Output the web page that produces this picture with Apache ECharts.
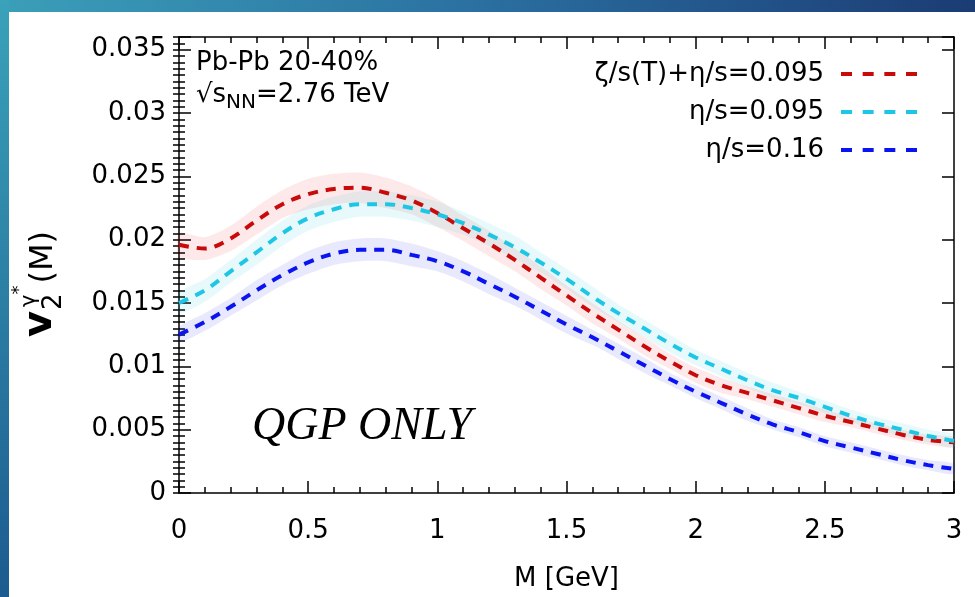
<!DOCTYPE html>
<html>
<head>
<meta charset="utf-8">
<script src="https://cdn.jsdelivr.net/npm/echarts@6/dist/echarts.min.js"></script>
<style>
  html, body { margin: 0; padding: 0; background: #ffffff; }
  #chart { width: 975px; height: 597px; }
</style>
</head>
<body>
<div id="chart"></div>
<script>
// Dilepton invariant mass M [GeV]
const massGeV = [0.0, 0.1, 0.2, 0.3, 0.4, 0.5, 0.6, 0.7, 0.8, 0.9,
                 1.0, 1.1, 1.2, 1.3, 1.4, 1.5, 1.6, 1.7, 1.8, 1.9,
                 2.0, 2.1, 2.2, 2.3, 2.4, 2.5, 2.6, 2.7, 2.8, 2.9, 3.0];

// v2 of virtual photons, zeta/s(T) + eta/s = 0.095
const v2Bulk = [0.0196, 0.0193, 0.0201, 0.0215, 0.0228, 0.0236, 0.0240, 0.0241, 0.0237, 0.0231,
                0.0221, 0.0209, 0.0197, 0.0184, 0.0170, 0.0156, 0.0142, 0.0129, 0.0116, 0.0104,
                0.0093, 0.0085, 0.0079, 0.0073, 0.0067, 0.0061, 0.0056, 0.0051, 0.0046, 0.0042, 0.0040];
// eta/s = 0.095
const v2Eta095 = [0.0150, 0.0160, 0.0175, 0.0190, 0.0205, 0.0217, 0.0224, 0.0228, 0.0228, 0.0225,
                  0.0220, 0.0213, 0.0204, 0.0194, 0.0182, 0.0169, 0.0155, 0.0142, 0.0130, 0.0118,
                  0.0107, 0.0098, 0.0089, 0.0081, 0.0075, 0.0068, 0.0061, 0.0055, 0.0050, 0.0045, 0.0041];
// eta/s = 0.16
const v2Eta016 = [0.0125, 0.0135, 0.0147, 0.0160, 0.0172, 0.0182, 0.0189, 0.0192, 0.0192, 0.0188,
                  0.0183, 0.0175, 0.0165, 0.0155, 0.0144, 0.0133, 0.0123, 0.0112, 0.0101, 0.0090,
                  0.0080, 0.0071, 0.0062, 0.0054, 0.0048, 0.0041, 0.0036, 0.0031, 0.0026, 0.0022, 0.0019];

// half-widths of the uncertainty bands
const errBulk = [0.0009, 0.0009, 0.0010, 0.0011, 0.0011, 0.0012, 0.0012, 0.0012, 0.0012, 0.0011,
                 0.0011, 0.0010, 0.0010, 0.0009, 0.0009, 0.0008, 0.0008, 0.0007, 0.0007, 0.0006,
                 0.0006, 0.0006, 0.0005, 0.0005, 0.0005, 0.0005, 0.0004, 0.0004, 0.0004, 0.0004, 0.0004];
const errEta095 = [0.0008, 0.0009, 0.0009, 0.0010, 0.0010, 0.0010, 0.0010, 0.0010, 0.0010, 0.0010,
                   0.0010, 0.0009, 0.0009, 0.0009, 0.0008, 0.0008, 0.0008, 0.0007, 0.0007, 0.0007,
                   0.0006, 0.0006, 0.0006, 0.0006, 0.0005, 0.0005, 0.0005, 0.0005, 0.0005, 0.0005, 0.0005];
const errEta016 = [0.0006, 0.0007, 0.0007, 0.0008, 0.0008, 0.0009, 0.0009, 0.0009, 0.0009, 0.0009,
                   0.0008, 0.0008, 0.0008, 0.0007, 0.0007, 0.0007, 0.0006, 0.0006, 0.0006, 0.0005,
                   0.0005, 0.0005, 0.0005, 0.0004, 0.0004, 0.0004, 0.0004, 0.0004, 0.0004, 0.0004, 0.0004];

const seriesNames = ['ζ/s(T)+η/s=0.095', 'η/s=0.095', 'η/s=0.16'];
const xTickLabels = ['0', '0.5', '1', '1.5', '2', '2.5', '3'];
const yTickLabels = ['0', '0.005', '0.01', '0.015', '0.02', '0.025', '0.03', '0.035'];

const lineColors = ['#c80a0a', '#1ec6e6', '#0a14f0'];
const bandColors = ['rgba(235, 40, 40, 0.10)', 'rgba(30, 200, 230, 0.10)', 'rgba(40, 40, 235, 0.10)'];

const SANS = '"DejaVu Sans", "Liberation Sans", sans-serif';
const X_STEP = 0.5, Y_STEP = 0.005;
const DASH = [10, 8];

function pairs(xs, ys) { return xs.map((x, i) => [x, ys[i]]); }

function tickLabel(labels, step) {
  return function (v) {
    const i = Math.round(v / step);
    if (Math.abs(v - i * step) > 1e-9 || i < 0 || i >= labels.length) return '';
    return labels[i];
  };
}

// filled band between value-err and value+err, projected through the grid
function bandSeries(values, errs, color) {
  return {
    type: 'custom',
    coordinateSystem: 'cartesian2d',
    xAxisIndex: 0, yAxisIndex: 0,
    silent: true,
    data: [[massGeV[0], values[0]]],
    renderItem: function (params, api) {
      const pts = [];
      for (let i = 0; i < massGeV.length; i++) pts.push(api.coord([massGeV[i], values[i] + errs[i]]));
      for (let i = massGeV.length - 1; i >= 0; i--) pts.push(api.coord([massGeV[i], values[i] - errs[i]]));
      return { type: 'polygon', shape: { points: pts, smooth: 0.25 }, style: { fill: color } };
    }
  };
}

function curveSeries(name, values, color) {
  return {
    name: name,
    type: 'line',
    xAxisIndex: 0, yAxisIndex: 0,
    data: pairs(massGeV, values),
    smooth: 0.35,
    symbol: 'none',
    lineStyle: { color: color, width: 4, type: DASH },
    itemStyle: { color: color },
    z: 3
  };
}

// text measurement for the composite labels
const measureCtx = document.createElement('canvas').getContext('2d');
function fontOf(size, opts) {
  opts = opts || {};
  return (opts.style || 'normal') + ' ' + (opts.weight || 'normal') + ' ' + size + 'px ' + (opts.family || SANS);
}
function textW(str, size, opts) { measureCtx.font = fontOf(size, opts); return measureCtx.measureText(str).width; }
function txt(str, x, baseline, size, opts) {
  return {
    type: 'text', x: x, y: baseline - 0.35 * size, z: 20,
    style: { text: str, font: fontOf(size, opts), fill: '#000', align: 'left', verticalAlign: 'middle',
             textAlign: 'left', textVerticalAlign: 'middle' }
  };
}

const graphics = [];
// slide frame strips
graphics.push({ type: 'rect', shape: { x: 0, y: 0, width: 975, height: 12 }, z: 1,
  style: { fill: new echarts.graphic.LinearGradient(0, 0, 1, 0, [
    { offset: 0, color: '#3b9fb9' }, { offset: 0.5, color: '#2a6fa0' }, { offset: 1, color: '#1b3b74' }]) } });
graphics.push({ type: 'rect', shape: { x: 0, y: 0, width: 9, height: 597 }, z: 1,
  style: { fill: new echarts.graphic.LinearGradient(0, 0, 0, 1, [
    { offset: 0, color: '#3aa2ba' }, { offset: 1, color: '#1c5b8f' }]) } });

// collision system annotation
graphics.push(txt('Pb-Pb 20-40%', 196, 72, 26));
(function () {
  let x = 196;
  graphics.push(txt('√s', x, 104, 26)); x += textW('√s', 26);
  graphics.push(txt('NN', x, 110, 20)); x += textW('NN', 20);
  graphics.push(txt('=2.76 TeV', x, 104, 26));
})();
graphics.push(txt('QGP ONLY', 252, 443, 46, { family: '"Liberation Serif", serif', style: 'italic' }));

// rotated y-axis title: v_2^{gamma*}(M)
(function () {
  const children = [];
  let x = 0;
  children.push(txt('v', x, 0, 40, { weight: 'bold' })); x += textW('v', 40, { weight: 'bold' }) + 1;
  children.push(txt('2', x, 8, 26));
  children.push(txt('γ', x + 3, -18, 21));
  const xs = x + 3 + textW('γ', 21);
  children.push(txt('*', xs, -29, 18));
  x = Math.max(x + textW('2', 26), xs + textW('*', 18)) + 2;
  children.push(txt('(M)', x, 0, 32));
  graphics.push({ type: 'group', x: 55, y: 337, rotation: Math.PI / 2, children: children });
})();

const axisLineStyle = { color: '#000', width: 1.5 };
function xAxisDef(pos, showLabels) {
  return {
    type: 'value', position: pos, min: 0, max: 3, interval: X_STEP,
    axisLine: { show: true, onZero: false, lineStyle: axisLineStyle },
    axisTick: { show: true, inside: true, length: 12, lineStyle: axisLineStyle },
    minorTick: { show: true, splitNumber: 5, length: 6, lineStyle: axisLineStyle },
    splitLine: { show: false },
    axisLabel: { show: showLabels, margin: 25, color: '#000', fontFamily: SANS, fontSize: 26,
                 formatter: tickLabel(xTickLabels, X_STEP) },
    name: showLabels ? 'M [GeV]' : '', nameLocation: 'middle', nameGap: 73,
    nameTextStyle: { color: '#000', fontFamily: SANS, fontSize: 26 }
  };
}
function yAxisMajor(pos, showLabels) {
  return {
    type: 'value', position: pos, min: 0, max: 0.036, interval: Y_STEP,
    axisLine: { show: true, onZero: false, lineStyle: axisLineStyle },
    axisTick: { show: true, inside: true, length: 12, lineStyle: axisLineStyle },
    splitLine: { show: false },
    axisLabel: { show: showLabels, margin: 13, color: '#000', fontFamily: SANS, fontSize: 26,
                 formatter: tickLabel(yTickLabels, Y_STEP) }
  };
}
function yAxisMinor(pos) {
  return {
    type: 'value', position: pos, min: 0, max: 0.036, interval: 0.0005,
    axisLine: { show: false },
    axisTick: { show: true, inside: true, length: 6, lineStyle: axisLineStyle },
    splitLine: { show: false },
    axisLabel: { show: false }
  };
}

const chart = echarts.init(document.getElementById('chart'), null, { renderer: 'canvas' });
chart.setOption({
  backgroundColor: '#ffffff',
  animation: false,
  grid: { left: 179, right: 21, top: 37, bottom: 99, containLabel: false },
  xAxis: [xAxisDef('bottom', true), xAxisDef('top', false)],
  yAxis: [yAxisMajor('left', true), yAxisMinor('left'), yAxisMajor('right', false), yAxisMinor('right')],
  legend: {
    data: seriesNames,
    orient: 'vertical', align: 'right',
    right: 51, top: 54,
    itemWidth: 76, itemHeight: 14, itemGap: 8,
    itemStyle: { opacity: 0 },
    lineStyle: { width: 4, type: [11, 10.67] },
    textStyle: { color: '#000', fontFamily: SANS, fontSize: 26, lineHeight: 30, padding: [0, 12, 0, 0] }
  },
  graphic: { elements: graphics },
  series: [
    bandSeries(v2Bulk, errBulk, bandColors[0]),
    bandSeries(v2Eta095, errEta095, bandColors[1]),
    bandSeries(v2Eta016, errEta016, bandColors[2]),
    curveSeries(seriesNames[0], v2Bulk, lineColors[0]),
    curveSeries(seriesNames[1], v2Eta095, lineColors[1]),
    curveSeries(seriesNames[2], v2Eta016, lineColors[2])
  ]
});
</script>
</body>
</html>
